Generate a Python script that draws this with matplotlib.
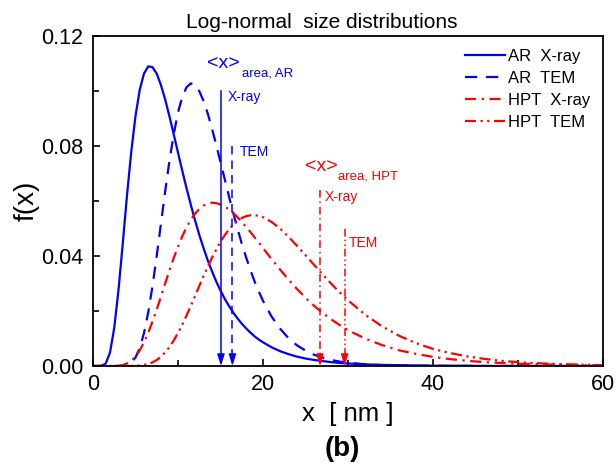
import numpy as np
import matplotlib
matplotlib.use("Agg")
import matplotlib.pyplot as plt

plt.rcParams["font.family"] = ["Liberation Sans", "DejaVu Sans"]

# particle size grid [nm]
x_nm = [0, 0.5, 1, 1.5, 2, 2.5, 3, 3.5, 4, 4.5, 5, 5.5, 6, 6.5, 7, 7.5, 8, 8.5,
        9, 9.5, 10, 10.5, 11, 11.5, 12, 12.5, 13, 13.5, 14, 14.5, 15, 15.5, 16,
        16.5, 17, 17.5, 18, 18.5, 19, 19.5, 20, 21, 22, 23, 24, 25, 26, 27, 28,
        29, 30, 32, 34, 36, 38, 40, 42, 44, 46, 48, 50, 53, 56, 60]

# f(x), in units of 1e-4
ar_xray = [0, 0, 1, 9, 49, 139, 277, 446, 621, 780, 910, 1005, 1064, 1090, 1087,
           1063, 1021, 968, 907, 842, 776, 710, 647, 587, 530, 477, 429, 384, 344,
           307, 274, 244, 218, 194, 173, 154, 137, 122, 108, 96, 86, 68, 54, 43,
           34, 27, 22, 18, 14, 11, 9, 6, 4, 3, 2, 1, 1, 1, 0, 0, 0, 0, 0, 0]
ar_tem = [0, 0, 0, 0, 0, 0, 0, 1, 4, 12, 31, 66, 120, 196, 291, 402, 520, 638,
          748, 844, 922, 979, 1014, 1028, 1022, 1000, 964, 918, 863, 804, 741,
          679, 616, 556, 499, 445, 396, 350, 308, 271, 237, 180, 136, 101, 75,
          56, 41, 30, 22, 16, 12, 6, 3, 2, 1, 1, 0, 0, 0, 0, 0, 0, 0, 0]
hpt_xray = [0, 0, 0, 0, 0, 0, 1, 3, 9, 19, 34, 57, 86, 121, 162, 206, 253, 301,
            348, 393, 434, 472, 504, 532, 554, 571, 583, 591, 594, 592, 588, 580,
            569, 556, 541, 524, 506, 488, 468, 449, 429, 389, 351, 314, 280, 248,
            219, 193, 170, 149, 130, 100, 76, 57, 44, 33, 25, 19, 14, 11, 8, 6, 4, 2]
hpt_tem = [0, 0, 0, 0, 0, 0, 0, 0, 0, 0, 1, 2, 4, 7, 13, 22, 34, 50, 69, 93, 120,
           150, 183, 218, 254, 291, 327, 361, 394, 424, 452, 476, 497, 514, 528,
           538, 545, 548, 549, 546, 541, 524, 500, 470, 437, 403, 368, 333, 300,
           268, 239, 187, 144, 110, 83, 62, 47, 35, 26, 19, 14, 9, 6, 3]

# area-weighted mean sizes (arrows) and arrow tops
mean_x = [15.05, 16.4, 26.7, 29.6]
mean_top = [0.100, 0.080, 0.064, 0.050]

blue = "#0000ff"
red = "#ff0000"
styles = ["-", (0, (5.5, 4)), (0, (5, 2.5, 1, 2.5)), (0, (5, 2, 1, 2, 1, 2))]
colors = [blue, blue, red, red]
labels = ["AR  X-ray", "AR  TEM", "HPT  X-ray", "HPT  TEM"]
series = [ar_xray, ar_tem, hpt_xray, hpt_tem]

fig = plt.figure(figsize=(6.16, 4.75), dpi=100)
ax = fig.add_axes([0.151, 0.2295, 0.828, 0.6945])

for ys, c, ls, lab in zip(series, colors, styles, labels):
    ax.plot(x_nm, np.array(ys) / 1e4, color=c, linestyle=ls, lw=1.6, label=lab)

for xm, top, c, ls in zip(mean_x, mean_top, colors, styles):
    ax.plot([xm, xm], [top, 0.004], color=c, linestyle=ls, lw=1.1)
    ax.annotate("", xy=(xm, 0.0), xytext=(xm, 0.0045),
                arrowprops=dict(arrowstyle="-|>,head_length=0.7,head_width=0.22",
                                color=c, lw=1.0, shrinkA=0, shrinkB=0))

# annotations
ax.text(13.4, 0.110, "<x>", color=blue, fontsize=14, va="center")
ax.text(17.5, 0.1065, "area, AR", color=blue, fontsize=9.5, va="center")
ax.text(15.9, 0.0978, "X-ray", color=blue, fontsize=10, va="center")
ax.text(17.3, 0.0778, "TEM", color=blue, fontsize=10, va="center")
ax.text(24.9, 0.0724, "<x>", color=red, fontsize=14, va="center")
ax.text(28.8, 0.0688, "area, HPT", color=red, fontsize=9.5, va="center")
ax.text(27.3, 0.0615, "X-ray", color=red, fontsize=10, va="center")
ax.text(30.1, 0.0447, "TEM", color=red, fontsize=10, va="center")

ax.set_xlim(0, 60)
ax.set_ylim(0, 0.12)
ax.set_xticks([0, 20, 40, 60])
ax.set_xticks([10, 30, 50], minor=True)
ax.set_yticks([0, 0.04, 0.08, 0.12])
ax.set_yticklabels(["0.00", "0.04", "0.08", "0.12"])
ax.set_yticks([0.02, 0.06, 0.10], minor=True)
ax.tick_params(which="both", direction="in", labelsize=15.5, width=1.2)
ax.tick_params(which="major", length=5)
ax.tick_params(axis="x", which="major", pad=6)
ax.tick_params(axis="y", which="major", pad=7)
ax.tick_params(which="minor", length=4)
for sp in ax.spines.values():
    sp.set_linewidth(1.3)

ax.set_xlabel("x  [ nm ]", fontsize=18.5, labelpad=5)
ax.set_ylabel("f(x)", fontsize=20, labelpad=1)
fig.text(0.523, 0.953, "Log-normal  size distributions", fontsize=15,
         ha="center", va="center")

ax.legend(loc="upper right", frameon=False, fontsize=12, handlelength=2.4,
          handletextpad=0.2, labelspacing=0.42, borderaxespad=0.35)

fig.text(0.555, 0.055, "(b)", fontsize=20, fontweight="bold", ha="center",
         va="center")

fig.savefig("out.png", dpi=100)
